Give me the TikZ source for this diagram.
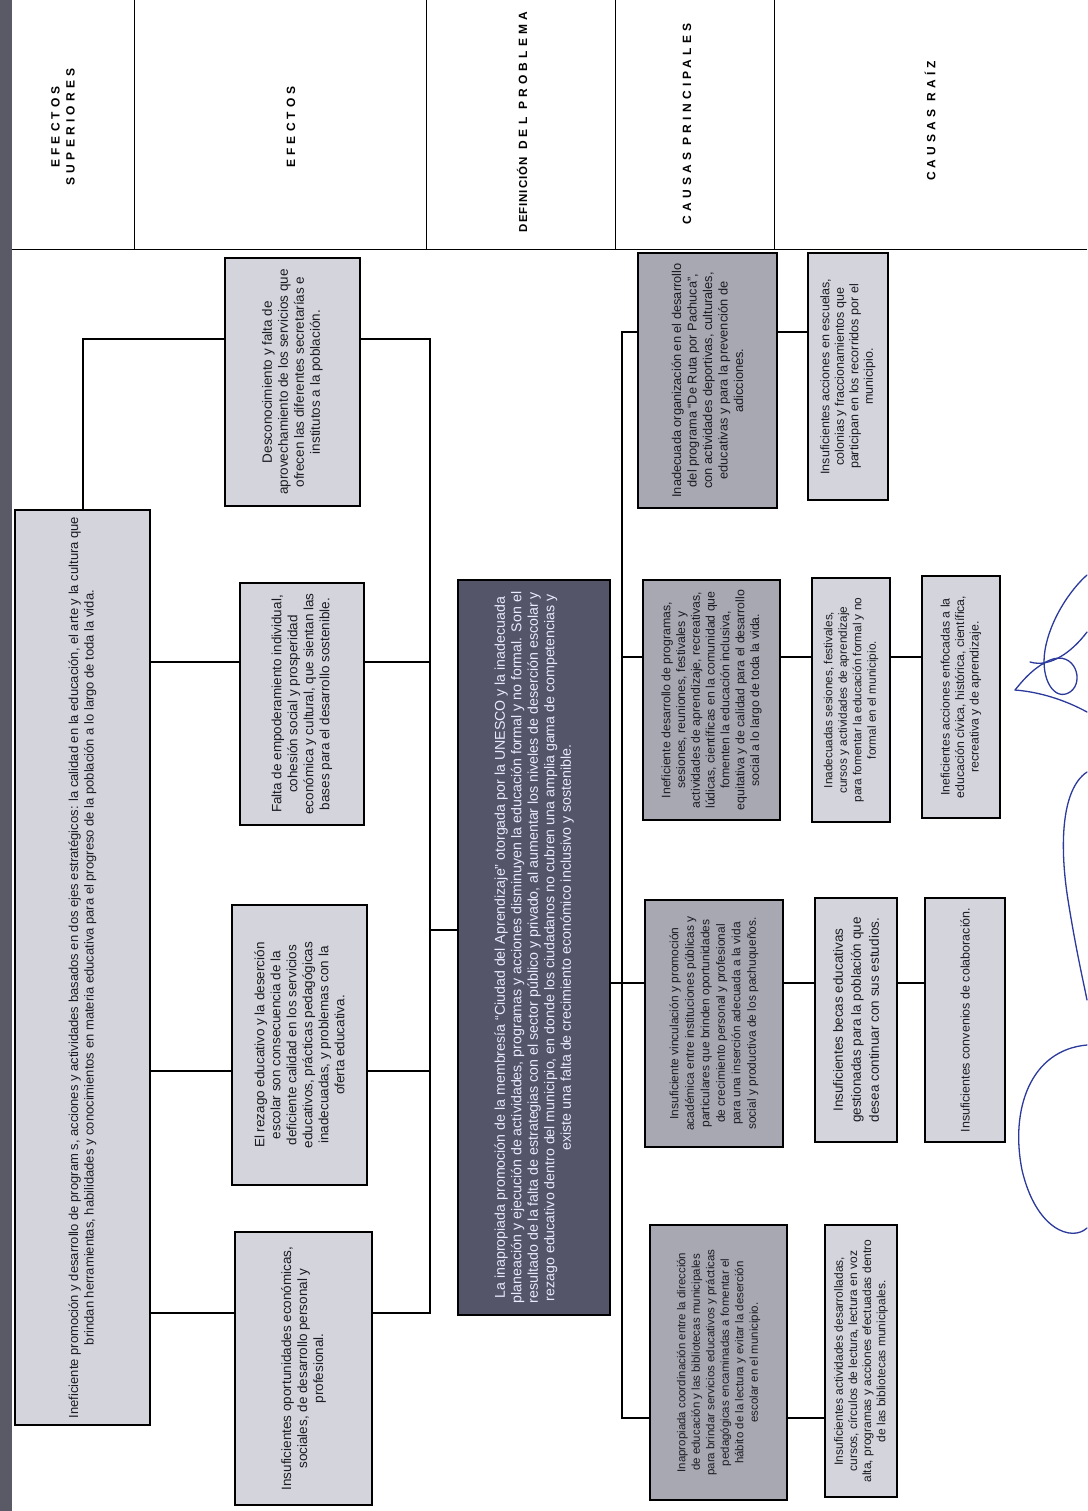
\documentclass[tikz,border=0pt]{standalone}
\usepackage{fontspec}
\setmainfont{Liberation Sans}
\newfontfamily\hdr[LetterSpace=35]{Liberation Sans}
\newfontfamily\hdrn[LetterSpace=8]{Liberation Sans}
\usetikzlibrary{calc}
\definecolor{boxlight}{HTML}{D4D4DC}
\definecolor{boxmid}{HTML}{A8A8B3}
\definecolor{boxdark}{HTML}{55556A}
\definecolor{txtc}{HTML}{1A1A20}
\definecolor{sigc}{HTML}{2B3A9C}
\definecolor{stripc}{HTML}{5A5A66}
\begin{document}
\begin{tikzpicture}[x=1pt,y=-1pt,
  box/.style={draw=black, line width=1.1pt, inner sep=0pt, outer sep=0pt},
  lbox/.style={box, fill=boxlight},
  cbox/.style={box, fill=boxmid},
  pbox/.style={box, fill=boxdark},
  txt/.style={rotate=90, align=center, text=txtc, inner sep=0pt},
  ptxt/.style={rotate=90, align=center, text=white!92!blue, inner sep=0pt},
  conn/.style={line width=1.1pt, draw=black},
  rule/.style={line width=1pt, draw=black},
  hd/.style={rotate=90, align=center, inner sep=0pt, font=\hdr\bfseries\fontsize{12}{15}\selectfont},
  sig/.style={draw=sigc, line width=1.3pt, line cap=round}
]
\useasboundingbox (0,0) rectangle (1087,1511);
\fill[white] (0,0) rectangle (1087,1511);
\fill[stripc] (0,0) rectangle (12,1511);

% header grid
\coordinate (g0) at (12,250);
\coordinate (g5) at (1087,250);
\draw[rule] (g0) -- (g5);
\coordinate (v1t) at (134,0); \coordinate (v1b) at (134,250);
\coordinate (v2t) at (426,0); \coordinate (v2b) at (426,250);
\coordinate (v3t) at (615,0); \coordinate (v3b) at (615,250);
\coordinate (v4t) at (774,0); \coordinate (v4b) at (774,250);
\draw[rule] (v1t) -- (v1b);
\draw[rule] (v2t) -- (v2b);
\draw[rule] (v3t) -- (v3b);
\draw[rule] (v4t) -- (v4b);

\node[hd] (h1) at (63,127) {EFECTOS\\SUPERIORES};
\node[hd] (h2) at (291,127) {EFECTOS};
\node[hd] (h3) at (522,122) {{\hdrn\bfseries\fontsize{11.5}{14}\selectfont DEFINICIÓN} DEL PROBLEMA};
\node[hd] (h4) at (687,124) {CAUSAS PRINCIPALES};
\node[hd] (h5) at (930,121) {CAUSAS RAÍZ};

% upper effect
\node[lbox, minimum width=135, minimum height=915] (sup) at (82.5,967.5) {};
\node[txt, font=\fontsize{13}{15.5}\selectfont] (supT) at (sup) {Ineficiente promoción y desarrollo de program s, acciones y actividades basados en dos ejes estratégicos: la calidad en la educación, el arte y la cultura que\\brindan herramientas, habilidades y conocimientos en materia educativa para el progreso de la población a lo largo de toda la vida.};

% effects
\node[lbox, minimum width=135, minimum height=248] (E1) at (292.5,382) {};
\node[txt, font=\fontsize{13.5}{16}\selectfont] (E1T) at (E1) {Desconocimiento y falta de\\aprovechamiento de los servicios que\\ofrecen las diferentes secretarías e\\institutos a la población.};
\node[lbox, minimum width=124, minimum height=242] (E2) at (302,704) {};
\node[txt, font=\fontsize{13.5}{16}\selectfont] (E2T) at (E2) {Falta de empoderamiento individual,\\cohesión social y prosperidad\\económica y cultural, que sientan las\\bases para el desarrollo sostenible.};
\node[lbox, minimum width=135, minimum height=280] (E3) at (299.5,1045) {};
\node[txt, font=\fontsize{13.5}{16}\selectfont] (E3T) at (E3) {El rezago educativo y la deserción\\escolar son consecuencia de la\\deficiente calidad en los servicios\\educativos, prácticas pedagógicas\\inadecuadas, y problemas con la\\oferta educativa.};
\node[lbox, minimum width=137, minimum height=273] (E4) at (303.5,1368.5) {};
\node[txt, font=\fontsize{13.5}{16}\selectfont] (E4T) at (E4) {Insuficientes oportunidades económicas,\\sociales, de desarrollo personal y\\profesional.};

% problem
\node[pbox, minimum width=152, minimum height=735] (P) at (534,947.5) {};
\node[ptxt, font=\fontsize{14.2}{16.5}\selectfont] (PT) at (P) {La inapropiada promoción de la membresía “Ciudad del Aprendizaje” otorgada por la UNESCO y la inadecuada\\planeación y ejecución de actividades, programas y acciones disminuyen la educación formal y no formal. Son el\\resultado de la falta de estrategias con el sector público y privado, al aumentar los niveles de deserción escolar y\\rezago educativo dentro del municipio, en donde los ciudadanos no cubren una amplia gama de competencias y\\existe una falta de crecimiento económico inclusivo y sostenible.};

% main causes
\node[cbox, minimum width=139, minimum height=255] (C1) at (707.5,380.5) {};
\node[txt, font=\fontsize{12.8}{15.5}\selectfont] (C1T) at (C1) {Inadecuada organización en el desarrollo\\del programa “De Ruta por Pachuca”,\\con actividades deportivas, culturales,\\educativas y para la prevención de\\adicciones.};
\node[cbox, minimum width=137, minimum height=240] (C2) at (711.5,700) {};
\node[txt, font=\fontsize{12.3}{14.8}\selectfont] (C2T) at (C2) {Ineficiente desarrollo de programas,\\sesiones, reuniones, festivales y\\actividades de aprendizaje, recreativas,\\lúdicas, científicas en la comunidad que\\fomenten la educación inclusiva,\\equitativa y de calidad para el desarrollo\\social a lo largo de toda la vida.};
\node[cbox, minimum width=138, minimum height=247] (C3) at (714,1023.5) {};
\node[txt, font=\fontsize{12}{15.5}\selectfont] (C3T) at (C3) {Insuficiente vinculación y promoción\\académica entre instituciones públicas y\\particulares que brinden oportunidades\\de crecimiento personal y profesional\\para una inserción adecuada a la vida\\social y productiva de los pachuqueños.};
\node[cbox, minimum width=137, minimum height=275] (C4) at (718.5,1362.5) {};
\node[txt, font=\fontsize{11.5}{14.5}\selectfont] (C4T) at (C4) {Inapropiada coordinación entre la dirección\\de educación y las bibliotecas municipales\\para brindar servicios educativos y prácticas\\pedagógicas encaminadas a fomentar el\\hábito de la lectura y evitar la deserción\\escolar en el municipio.};

% root causes
\node[lbox, minimum width=80, minimum height=247] (R1) at (848,376.5) {};
\node[txt, font=\fontsize{12.5}{14.5}\selectfont] (R1T) at (R1) {Insuficientes acciones en escuelas,\\colonias y fraccionamientos que\\participan en los recorridos por el\\municipio.};
\node[lbox, minimum width=78, minimum height=244] (R2a) at (851,700) {};
\node[txt, font=\fontsize{11.8}{14.5}\selectfont] (R2aT) at (R2a) {Inadecuadas sesiones, festivales,\\cursos y actividades de aprendizaje\\para fomentar la educación formal y no\\formal en el municipio.};
\node[lbox, minimum width=78, minimum height=242] (R2b) at (961,697) {};
\node[txt, font=\fontsize{12.3}{14.5}\selectfont] (R2bT) at (R2b) {Ineficientes acciones enfocadas a la\\educación cívica, histórica, científica,\\recreativa y de aprendizaje.};
\node[lbox, minimum width=82, minimum height=244] (R3a) at (856,1020) {};
\node[txt, font=\fontsize{13.5}{18}\selectfont] (R3aT) at (R3a) {Insuficientes becas educativas\\gestionadas para la población que\\desea continuar con sus estudios.};
\node[lbox, minimum width=80, minimum height=244] (R3b) at (965,1020) {};
\node[txt, font=\fontsize{12.5}{14.5}\selectfont] (R3bT) at (R3b) {Insuficientes convenios de colaboración.};
\node[lbox, minimum width=72, minimum height=272] (R4) at (861,1361) {};
\node[txt, font=\fontsize{12}{14.2}\selectfont] (R4T) at (R4) {Insuficientes actividades desarrolladas,\\cursos, círculos de lectura, lectura en voz\\alta, programas y acciones efectuadas dentro\\de las bibliotecas municipales.};

% connector levels
\coordinate (ja) at (83,339);
\coordinate (yb) at (0,662);
\coordinate (yc) at (0,1071);
\coordinate (yd) at (0,1313);
\coordinate (tl) at (430,0);
\coordinate (yp) at (0,930);
\coordinate (tr) at (622,0);
\coordinate (y1) at (0,332);
\coordinate (y2) at (0,657);
\coordinate (y3) at (0,983);
\coordinate (y4) at (0,1418);

% upper effect -> effects
\draw[conn] (sup.north -| ja) -- (ja) -- (E1.west |- ja);
\draw[conn] (sup.east |- yb) -- (E2.west |- yb);
\draw[conn] (sup.east |- yc) -- (E3.west |- yc);
\draw[conn] (sup.east |- yd) -- (E4.west |- yd);
% effects -> problem trunk
\draw[conn] (E1.east |- ja) -- (tl |- ja) -- (tl |- yd) -- (E4.east |- yd);
\draw[conn] (E2.east |- yb) -- (tl |- yb);
\draw[conn] (E3.east |- yc) -- (tl |- yc);
\draw[conn] (tl |- yp) -- (P.west |- yp);
% problem -> causes trunk
\draw[conn] (P.east |- y3) -- (C3.west |- y3);
\draw[conn] (C1.west |- y1) -- (tr |- y1) -- (tr |- y4) -- (C4.west |- y4);
\draw[conn] (tr |- y2) -- (C2.west |- y2);
% causes -> root causes
\draw[conn] (C1.east |- y1) -- (R1.west |- y1);
\draw[conn] (C2.east |- y2) -- (R2a.west |- y2);
\draw[conn] (R2a.east |- y2) -- (R2b.west |- y2);
\draw[conn] (C3.east |- y3) -- (R3a.west |- y3);
\draw[conn] (R3a.east |- y3) -- (R3b.west |- y3);
\draw[conn] (C4.east |- y4) -- (R4.west |- y4);

% signatures
\draw[sig] (1087,575) .. controls (1070,590) and (1050,620) .. (1045,650) .. controls (1040,680) and (1055,702) .. (1070,692) .. controls (1085,682) and (1075,650) .. (1050,660) .. controls (1032,668) and (1020,684) .. (1015,690);
\draw[sig] (1015,690) .. controls (1040,692) and (1065,700) .. (1087,712);
\draw[sig] (1030,662) .. controls (1050,668) and (1072,652) .. (1087,632);
\draw[sig] (1087,772) .. controls (1060,790) and (1060,850) .. (1068,900) .. controls (1076,950) and (1083,980) .. (1087,1000);
\draw[sig] (1087,1045) .. controls (1030,1050) and (1010,1110) .. (1022,1170) .. controls (1036,1230) and (1072,1242) .. (1087,1228);
\end{tikzpicture}
\end{document}
